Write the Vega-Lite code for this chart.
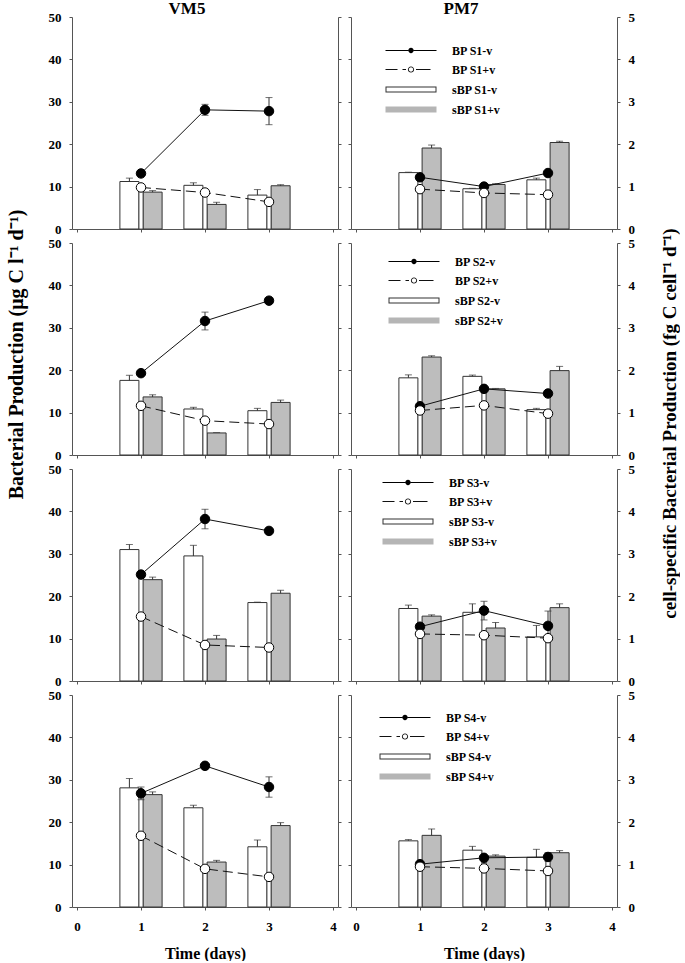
{
"$schema":"https://vega.github.io/schema/vega-lite/v6.json",
"autosize":{"type":"pad"},
"padding":{"left":6,"top":0,"right":0,"bottom":0},
"config":{"view":{"stroke":null},
"axis":{"grid":false,"domainColor":"#555","domainWidth":1,"tickColor":"#555","tickWidth":1,"tickSize":3,"labelFont":"Liberation Serif","labelFontWeight":"bold","labelFontSize":13,"labelColor":"#000","labelPadding":8,"labelFlush":false,"titleFont":"Liberation Serif","titleFontWeight":"bold","titleFontSize":19,"titleColor":"#000"},
"legend":{"orient":"none","labelFont":"Liberation Serif","labelFontWeight":"bold","labelFontSize":12,"labelColor":"#000","symbolSize":100,"labelOffset":55,"rowPadding":6,"padding":0},
"title":{"font":"Liberation Serif","fontWeight":"bold","fontSize":17,"color":"#000","frame":"group","anchor":"middle","offset":-7}},
"data":{"values":[
{"st":"VM5","s":"S1","m":"BP","t":"-v","day":1,"v":13.1,"e":0.5},{"st":"VM5","s":"S1","m":"BP","t":"-v","day":2,"v":28.1,"e":1.3},{"st":"VM5","s":"S1","m":"BP","t":"-v","day":3,"v":27.8,"e":3.2},
{"st":"VM5","s":"S1","m":"BP","t":"+v","day":1,"v":9.8,"e":0.3},{"st":"VM5","s":"S1","m":"BP","t":"+v","day":2,"v":8.6,"e":0.3},{"st":"VM5","s":"S1","m":"BP","t":"+v","day":3,"v":6.4,"e":0.3},
{"st":"VM5","s":"S1","m":"sBP","t":"-v","day":1,"v":1.12,"e":0.08},{"st":"VM5","s":"S1","m":"sBP","t":"-v","day":2,"v":1.03,"e":0.06},{"st":"VM5","s":"S1","m":"sBP","t":"-v","day":3,"v":0.8,"e":0.13},
{"st":"VM5","s":"S1","m":"sBP","t":"+v","day":1,"v":0.87,"e":0.035},{"st":"VM5","s":"S1","m":"sBP","t":"+v","day":2,"v":0.58,"e":0.05},{"st":"VM5","s":"S1","m":"sBP","t":"+v","day":3,"v":1.02,"e":0.025},
{"st":"PM7","s":"S1","m":"BP","t":"-v","day":1,"v":12.2,"e":0.3},{"st":"PM7","s":"S1","m":"BP","t":"-v","day":2,"v":10.0,"e":0.3},{"st":"PM7","s":"S1","m":"BP","t":"-v","day":3,"v":13.2,"e":0.3},
{"st":"PM7","s":"S1","m":"BP","t":"+v","day":1,"v":9.4,"e":0.2},{"st":"PM7","s":"S1","m":"BP","t":"+v","day":2,"v":8.5,"e":0.2},{"st":"PM7","s":"S1","m":"BP","t":"+v","day":3,"v":8.1,"e":0.2},
{"st":"PM7","s":"S1","m":"sBP","t":"-v","day":1,"v":1.33,"e":0.01},{"st":"PM7","s":"S1","m":"sBP","t":"-v","day":2,"v":0.95,"e":0.01},{"st":"PM7","s":"S1","m":"sBP","t":"-v","day":3,"v":1.16,"e":0.04},
{"st":"PM7","s":"S1","m":"sBP","t":"+v","day":1,"v":1.91,"e":0.07},{"st":"PM7","s":"S1","m":"sBP","t":"+v","day":2,"v":1.05,"e":0.02},{"st":"PM7","s":"S1","m":"sBP","t":"+v","day":3,"v":2.04,"e":0.03},
{"st":"VM5","s":"S2","m":"BP","t":"-v","day":1,"v":19.3,"e":0.4},{"st":"VM5","s":"S2","m":"BP","t":"-v","day":2,"v":31.6,"e":2.1},{"st":"VM5","s":"S2","m":"BP","t":"-v","day":3,"v":36.4,"e":0.5},
{"st":"VM5","s":"S2","m":"BP","t":"+v","day":1,"v":11.6,"e":0.3},{"st":"VM5","s":"S2","m":"BP","t":"+v","day":2,"v":8.1,"e":0.3},{"st":"VM5","s":"S2","m":"BP","t":"+v","day":3,"v":7.3,"e":0.3},
{"st":"VM5","s":"S2","m":"sBP","t":"-v","day":1,"v":1.76,"e":0.12},{"st":"VM5","s":"S2","m":"sBP","t":"-v","day":2,"v":1.085,"e":0.04},{"st":"VM5","s":"S2","m":"sBP","t":"-v","day":3,"v":1.045,"e":0.055},
{"st":"VM5","s":"S2","m":"sBP","t":"+v","day":1,"v":1.37,"e":0.05},{"st":"VM5","s":"S2","m":"sBP","t":"+v","day":2,"v":0.52,"e":0.0},{"st":"VM5","s":"S2","m":"sBP","t":"+v","day":3,"v":1.24,"e":0.055},
{"st":"PM7","s":"S2","m":"BP","t":"-v","day":1,"v":11.5,"e":0.3},{"st":"PM7","s":"S2","m":"BP","t":"-v","day":2,"v":15.6,"e":0.3},{"st":"PM7","s":"S2","m":"BP","t":"-v","day":3,"v":14.5,"e":0.3},
{"st":"PM7","s":"S2","m":"BP","t":"+v","day":1,"v":10.5,"e":0.3},{"st":"PM7","s":"S2","m":"BP","t":"+v","day":2,"v":11.7,"e":0.3},{"st":"PM7","s":"S2","m":"BP","t":"+v","day":3,"v":9.75,"e":0.3},
{"st":"PM7","s":"S2","m":"sBP","t":"-v","day":1,"v":1.82,"e":0.07},{"st":"PM7","s":"S2","m":"sBP","t":"-v","day":2,"v":1.855,"e":0.03},{"st":"PM7","s":"S2","m":"sBP","t":"-v","day":3,"v":1.07,"e":0.03},
{"st":"PM7","s":"S2","m":"sBP","t":"+v","day":1,"v":2.31,"e":0.03},{"st":"PM7","s":"S2","m":"sBP","t":"+v","day":2,"v":1.56,"e":0.01},{"st":"PM7","s":"S2","m":"sBP","t":"+v","day":3,"v":1.99,"e":0.1},
{"st":"VM5","s":"S3","m":"BP","t":"-v","day":1,"v":25.1,"e":0.5},{"st":"VM5","s":"S3","m":"BP","t":"-v","day":2,"v":38.2,"e":2.3},{"st":"VM5","s":"S3","m":"BP","t":"-v","day":3,"v":35.4,"e":0.5},
{"st":"VM5","s":"S3","m":"BP","t":"+v","day":1,"v":15.2,"e":0.3},{"st":"VM5","s":"S3","m":"BP","t":"+v","day":2,"v":8.5,"e":0.3},{"st":"VM5","s":"S3","m":"BP","t":"+v","day":3,"v":7.9,"e":0.3},
{"st":"VM5","s":"S3","m":"sBP","t":"-v","day":1,"v":3.1,"e":0.12},{"st":"VM5","s":"S3","m":"sBP","t":"-v","day":2,"v":2.95,"e":0.25},{"st":"VM5","s":"S3","m":"sBP","t":"-v","day":3,"v":1.85,"e":0.01},
{"st":"VM5","s":"S3","m":"sBP","t":"+v","day":1,"v":2.39,"e":0.06},{"st":"VM5","s":"S3","m":"sBP","t":"+v","day":2,"v":0.99,"e":0.085},{"st":"VM5","s":"S3","m":"sBP","t":"+v","day":3,"v":2.07,"e":0.07},
{"st":"PM7","s":"S3","m":"BP","t":"-v","day":1,"v":12.8,"e":0.3},{"st":"PM7","s":"S3","m":"BP","t":"-v","day":2,"v":16.6,"e":2.2},{"st":"PM7","s":"S3","m":"BP","t":"-v","day":3,"v":13.0,"e":3.5},
{"st":"PM7","s":"S3","m":"BP","t":"+v","day":1,"v":11.1,"e":0.3},{"st":"PM7","s":"S3","m":"BP","t":"+v","day":2,"v":10.8,"e":0.3},{"st":"PM7","s":"S3","m":"BP","t":"+v","day":3,"v":10.1,"e":0.3},
{"st":"PM7","s":"S3","m":"sBP","t":"-v","day":1,"v":1.71,"e":0.08},{"st":"PM7","s":"S3","m":"sBP","t":"-v","day":2,"v":1.62,"e":0.2},{"st":"PM7","s":"S3","m":"sBP","t":"-v","day":3,"v":1.04,"e":0.27},
{"st":"PM7","s":"S3","m":"sBP","t":"+v","day":1,"v":1.53,"e":0.03},{"st":"PM7","s":"S3","m":"sBP","t":"+v","day":2,"v":1.25,"e":0.13},{"st":"PM7","s":"S3","m":"sBP","t":"+v","day":3,"v":1.73,"e":0.09},
{"st":"VM5","s":"S4","m":"BP","t":"-v","day":1,"v":26.8,"e":1.5},{"st":"VM5","s":"S4","m":"BP","t":"-v","day":2,"v":33.3,"e":0.5},{"st":"VM5","s":"S4","m":"BP","t":"-v","day":3,"v":28.3,"e":2.4},
{"st":"VM5","s":"S4","m":"BP","t":"+v","day":1,"v":16.8,"e":0.3},{"st":"VM5","s":"S4","m":"BP","t":"+v","day":2,"v":9.0,"e":0.3},{"st":"VM5","s":"S4","m":"BP","t":"+v","day":3,"v":7.1,"e":0.3},
{"st":"VM5","s":"S4","m":"sBP","t":"-v","day":1,"v":2.81,"e":0.22},{"st":"VM5","s":"S4","m":"sBP","t":"-v","day":2,"v":2.34,"e":0.06},{"st":"VM5","s":"S4","m":"sBP","t":"-v","day":3,"v":1.42,"e":0.16},
{"st":"VM5","s":"S4","m":"sBP","t":"+v","day":1,"v":2.65,"e":0.065},{"st":"VM5","s":"S4","m":"sBP","t":"+v","day":2,"v":1.06,"e":0.04},{"st":"VM5","s":"S4","m":"sBP","t":"+v","day":3,"v":1.92,"e":0.07},
{"st":"PM7","s":"S4","m":"BP","t":"-v","day":1,"v":10.1,"e":0.3},{"st":"PM7","s":"S4","m":"BP","t":"-v","day":2,"v":11.6,"e":0.3},{"st":"PM7","s":"S4","m":"BP","t":"-v","day":3,"v":11.8,"e":1.0},
{"st":"PM7","s":"S4","m":"BP","t":"+v","day":1,"v":9.5,"e":0.3},{"st":"PM7","s":"S4","m":"BP","t":"+v","day":2,"v":9.1,"e":0.3},{"st":"PM7","s":"S4","m":"BP","t":"+v","day":3,"v":8.5,"e":0.3},
{"st":"PM7","s":"S4","m":"sBP","t":"-v","day":1,"v":1.56,"e":0.03},{"st":"PM7","s":"S4","m":"sBP","t":"-v","day":2,"v":1.34,"e":0.09},{"st":"PM7","s":"S4","m":"sBP","t":"-v","day":3,"v":1.17,"e":0.19},
{"st":"PM7","s":"S4","m":"sBP","t":"+v","day":1,"v":1.69,"e":0.15},{"st":"PM7","s":"S4","m":"sBP","t":"+v","day":2,"v":1.2,"e":0.03},{"st":"PM7","s":"S4","m":"sBP","t":"+v","day":3,"v":1.28,"e":0.05}
]},
"columns":2,
"spacing":{"row":14,"column":13},
"bounds":"flush",
"resolve":{"scale":{"fill":"independent","shape":"independent"},"legend":{"fill":"independent","shape":"independent"}},
"concat":[
{"width":266,"height":212,"title":{"text":"VM5","dx":-18},
"transform":[{"filter":"datum.st=='VM5'&&datum.s=='S1'"}],
"encoding":{"x":{"field":"day","type":"quantitative","scale":{"domain":[0,4],"nice":false,"zero":false},"axis":{"values":[0,1,2,3,4],"labels":false,"title":null}}},
"layer":[
{"transform":[{"filter":"datum.m=='sBP'"}],"encoding":{"y":{"field":"v","type":"quantitative","scale":{"domain":[0,5],"nice":false},"axis":{"orient":"right","values":[0,1,2,3,4,5],"labels":false,"title":null}}},
"layer":[
{"transform":[{"filter":"datum.t=='-v'"}],"mark":{"type":"errorbar","ticks":{"size":7,"color":"#333","xOffset":-11.6},"rule":{"color":"#333","xOffset":-11.6}},"encoding":{"yError":{"field":"e"}}},
{"transform":[{"filter":"datum.t=='+v'"}],"mark":{"type":"errorbar","ticks":{"size":7,"color":"#333","xOffset":11.6},"rule":{"color":"#333","xOffset":11.6}},"encoding":{"yError":{"field":"e"}}},
{"transform":[{"filter":"datum.t=='-v'"}],"mark":{"type":"bar","orient":"vertical","width":19,"xOffset":-11.6,"fill":"#fff","stroke":"#333","strokeWidth":1}},
{"transform":[{"filter":"datum.t=='+v'"}],"mark":{"type":"bar","orient":"vertical","width":19,"xOffset":11.6,"fill":"#bdbdbd","stroke":"#333","strokeWidth":1}}]},
{"transform":[{"filter":"datum.m=='BP'"}],"encoding":{"y":{"field":"v","type":"quantitative","scale":{"domain":[0,50],"nice":false},"axis":{"orient":"left","values":[0,10,20,30,40,50],"title":null}}},
"layer":[
{"transform":[{"filter":"datum.t=='+v'"}],"mark":{"type":"bar","orient":"vertical","width":4,"fill":"#fff","stroke":"#333","strokeWidth":0.8}},
{"transform":[{"filter":"datum.t=='-v'"}],"mark":{"type":"line","color":"#111","strokeWidth":1}},
{"transform":[{"filter":"datum.t=='-v'"}],"mark":{"type":"errorbar","ticks":{"size":7,"color":"#333"},"rule":{"color":"#333"}},"encoding":{"yError":{"field":"e"}}},
{"transform":[{"filter":"datum.t=='-v'"}],"mark":{"type":"point","shape":"circle","filled":true,"fill":"#000","stroke":"#000","strokeWidth":1,"size":90,"opacity":1}},
{"transform":[{"filter":"datum.t=='+v'"}],"mark":{"type":"line","color":"#111","strokeWidth":1,"strokeDash":[10,5]}},
{"transform":[{"filter":"datum.t=='+v'"}],"mark":{"type":"point","shape":"circle","filled":true,"fill":"#fff","stroke":"#000","strokeWidth":1,"size":90,"opacity":1}}]}],
"resolve":{"scale":{"y":"independent"}}},
{"width":266,"height":212,"title":{"text":"PM7","dx":-23},
"transform":[{"filter":"datum.st=='PM7'&&datum.s=='S1'"}],
"encoding":{"x":{"field":"day","type":"quantitative","scale":{"domain":[0,4],"nice":false,"zero":false},"axis":{"values":[0,1,2,3,4],"labels":false,"title":null}}},
"layer":[
{"transform":[{"filter":"datum.m=='sBP'"}],"encoding":{"y":{"field":"v","type":"quantitative","scale":{"domain":[0,5],"nice":false},"axis":{"orient":"right","values":[0,1,2,3,4,5],"title":null}}},
"layer":[
{"transform":[{"filter":"datum.t=='-v'"}],"mark":{"type":"errorbar","ticks":{"size":7,"color":"#333","xOffset":-11.6},"rule":{"color":"#333","xOffset":-11.6}},"encoding":{"yError":{"field":"e"}}},
{"transform":[{"filter":"datum.t=='+v'"}],"mark":{"type":"errorbar","ticks":{"size":7,"color":"#333","xOffset":11.6},"rule":{"color":"#333","xOffset":11.6}},"encoding":{"yError":{"field":"e"}}},
{"transform":[{"filter":"datum.t=='-v'"}],"mark":{"type":"bar","orient":"vertical","width":19,"xOffset":-11.6,"fill":"#fff","stroke":"#333","strokeWidth":1}},
{"transform":[{"filter":"datum.t=='+v'"}],"mark":{"type":"bar","orient":"vertical","width":19,"xOffset":11.6,"fill":"#bdbdbd","stroke":"#333","strokeWidth":1}}]},
{"transform":[{"filter":"datum.m=='BP'"}],"encoding":{"y":{"field":"v","type":"quantitative","scale":{"domain":[0,50],"nice":false},"axis":{"orient":"left","values":[0,10,20,30,40,50],"labels":false,"title":null}}},
"layer":[
{"transform":[{"filter":"datum.t=='+v'"}],"mark":{"type":"bar","orient":"vertical","width":4,"fill":"#fff","stroke":"#333","strokeWidth":0.8}},
{"transform":[{"filter":"datum.t=='-v'"}],"mark":{"type":"line","color":"#111","strokeWidth":1}},
{"transform":[{"filter":"datum.t=='-v'"}],"mark":{"type":"errorbar","ticks":{"size":7,"color":"#333"},"rule":{"color":"#333"}},"encoding":{"yError":{"field":"e"}}},
{"transform":[{"filter":"datum.t=='-v'"}],"mark":{"type":"point","shape":"circle","filled":true,"fill":"#000","stroke":"#000","strokeWidth":1,"size":90,"opacity":1}},
{"transform":[{"filter":"datum.t=='+v'"}],"mark":{"type":"line","color":"#111","strokeWidth":1,"strokeDash":[10,5]}},
{"transform":[{"filter":"datum.t=='+v'"}],"mark":{"type":"point","shape":"circle","filled":true,"fill":"#fff","stroke":"#000","strokeWidth":1,"size":90,"opacity":1}},
{"transform":[{"filter":"datum.day>9"}],"mark":{"type":"point","filled":true,"opacity":1},
"encoding":{"shape":{"field":"k","type":"nominal","scale":{"domain":["BP S1-v","BP S1+v","sBP S1-v","sBP S1+v"],"range":["M-1.1,-0.1H3.47V0.1H-1.1ZM4.53,-0.1H9.1V0.1H4.53ZM3.47,0A0.53,0.53,0,1,1,4.53,0A0.53,0.53,0,1,1,3.47,0Z","M-1.1,-0.1H1.3V0.1H-1.1ZM2.3,-0.1H3.0V0.1H2.3ZM5.0,-0.1H7.9V0.1H5.0ZM3.38,0A0.62,0.62,0,1,1,4.62,0A0.62,0.62,0,1,1,3.38,0ZM3.56,0A0.44,0.44,0,1,0,4.44,0A0.44,0.44,0,1,0,3.56,0Z","M-1.1,-0.62H9.1V0.62H-1.1ZM-0.9,-0.42V0.42H8.9V-0.42Z","M-1.1,-0.62H9.1V0.62H-1.1Z"]},"legend":{"title":null,"orient":"none","legendX":34,"legendY":27.5}},
"fill":{"field":"k","type":"nominal","scale":{"domain":["BP S1-v","BP S1+v","sBP S1-v","sBP S1+v"],"range":["#000","#111","#333","#b5b5b5"]},"legend":{"title":null,"orient":"none","legendX":34,"legendY":27.5}}}}]}],
"resolve":{"scale":{"y":"independent"}}},
{"width":266,"height":212,
"transform":[{"filter":"datum.st=='VM5'&&datum.s=='S2'"}],
"encoding":{"x":{"field":"day","type":"quantitative","scale":{"domain":[0,4],"nice":false,"zero":false},"axis":{"values":[0,1,2,3,4],"labels":false,"title":null}}},
"layer":[
{"transform":[{"filter":"datum.m=='sBP'"}],"encoding":{"y":{"field":"v","type":"quantitative","scale":{"domain":[0,5],"nice":false},"axis":{"orient":"right","values":[0,1,2,3,4,5],"labels":false,"title":null}}},
"layer":[
{"transform":[{"filter":"datum.t=='-v'"}],"mark":{"type":"errorbar","ticks":{"size":7,"color":"#333","xOffset":-11.6},"rule":{"color":"#333","xOffset":-11.6}},"encoding":{"yError":{"field":"e"}}},
{"transform":[{"filter":"datum.t=='+v'"}],"mark":{"type":"errorbar","ticks":{"size":7,"color":"#333","xOffset":11.6},"rule":{"color":"#333","xOffset":11.6}},"encoding":{"yError":{"field":"e"}}},
{"transform":[{"filter":"datum.t=='-v'"}],"mark":{"type":"bar","orient":"vertical","width":19,"xOffset":-11.6,"fill":"#fff","stroke":"#333","strokeWidth":1}},
{"transform":[{"filter":"datum.t=='+v'"}],"mark":{"type":"bar","orient":"vertical","width":19,"xOffset":11.6,"fill":"#bdbdbd","stroke":"#333","strokeWidth":1}}]},
{"transform":[{"filter":"datum.m=='BP'"}],"encoding":{"y":{"field":"v","type":"quantitative","scale":{"domain":[0,50],"nice":false},"axis":{"orient":"left","values":[0,10,20,30,40,50],"title":"Bacterial Production (μg C l⁻¹ d⁻¹)","titleFontSize":20,"titleY":111,"titlePadding":21.5}}},
"layer":[
{"transform":[{"filter":"datum.t=='+v'"}],"mark":{"type":"bar","orient":"vertical","width":4,"fill":"#fff","stroke":"#333","strokeWidth":0.8}},
{"transform":[{"filter":"datum.t=='-v'"}],"mark":{"type":"line","color":"#111","strokeWidth":1}},
{"transform":[{"filter":"datum.t=='-v'"}],"mark":{"type":"errorbar","ticks":{"size":7,"color":"#333"},"rule":{"color":"#333"}},"encoding":{"yError":{"field":"e"}}},
{"transform":[{"filter":"datum.t=='-v'"}],"mark":{"type":"point","shape":"circle","filled":true,"fill":"#000","stroke":"#000","strokeWidth":1,"size":90,"opacity":1}},
{"transform":[{"filter":"datum.t=='+v'"}],"mark":{"type":"line","color":"#111","strokeWidth":1,"strokeDash":[10,5]}},
{"transform":[{"filter":"datum.t=='+v'"}],"mark":{"type":"point","shape":"circle","filled":true,"fill":"#fff","stroke":"#000","strokeWidth":1,"size":90,"opacity":1}}]}],
"resolve":{"scale":{"y":"independent"}}},
{"width":266,"height":212,
"transform":[{"filter":"datum.st=='PM7'&&datum.s=='S2'"}],
"encoding":{"x":{"field":"day","type":"quantitative","scale":{"domain":[0,4],"nice":false,"zero":false},"axis":{"values":[0,1,2,3,4],"labels":false,"title":null}}},
"layer":[
{"transform":[{"filter":"datum.m=='sBP'"}],"encoding":{"y":{"field":"v","type":"quantitative","scale":{"domain":[0,5],"nice":false},"axis":{"orient":"right","values":[0,1,2,3,4,5],"title":"cell-specific Bacterial Production (fg C cell⁻¹ d⁻¹)","titleAngle":270,"titleBaseline":"top","titleY":180,"titlePadding":26}}},
"layer":[
{"transform":[{"filter":"datum.t=='-v'"}],"mark":{"type":"errorbar","ticks":{"size":7,"color":"#333","xOffset":-11.6},"rule":{"color":"#333","xOffset":-11.6}},"encoding":{"yError":{"field":"e"}}},
{"transform":[{"filter":"datum.t=='+v'"}],"mark":{"type":"errorbar","ticks":{"size":7,"color":"#333","xOffset":11.6},"rule":{"color":"#333","xOffset":11.6}},"encoding":{"yError":{"field":"e"}}},
{"transform":[{"filter":"datum.t=='-v'"}],"mark":{"type":"bar","orient":"vertical","width":19,"xOffset":-11.6,"fill":"#fff","stroke":"#333","strokeWidth":1}},
{"transform":[{"filter":"datum.t=='+v'"}],"mark":{"type":"bar","orient":"vertical","width":19,"xOffset":11.6,"fill":"#bdbdbd","stroke":"#333","strokeWidth":1}}]},
{"transform":[{"filter":"datum.m=='BP'"}],"encoding":{"y":{"field":"v","type":"quantitative","scale":{"domain":[0,50],"nice":false},"axis":{"orient":"left","values":[0,10,20,30,40,50],"labels":false,"title":null}}},
"layer":[
{"transform":[{"filter":"datum.t=='+v'"}],"mark":{"type":"bar","orient":"vertical","width":4,"fill":"#fff","stroke":"#333","strokeWidth":0.8}},
{"transform":[{"filter":"datum.t=='-v'"}],"mark":{"type":"line","color":"#111","strokeWidth":1}},
{"transform":[{"filter":"datum.t=='-v'"}],"mark":{"type":"errorbar","ticks":{"size":7,"color":"#333"},"rule":{"color":"#333"}},"encoding":{"yError":{"field":"e"}}},
{"transform":[{"filter":"datum.t=='-v'"}],"mark":{"type":"point","shape":"circle","filled":true,"fill":"#000","stroke":"#000","strokeWidth":1,"size":90,"opacity":1}},
{"transform":[{"filter":"datum.t=='+v'"}],"mark":{"type":"line","color":"#111","strokeWidth":1,"strokeDash":[10,5]}},
{"transform":[{"filter":"datum.t=='+v'"}],"mark":{"type":"point","shape":"circle","filled":true,"fill":"#fff","stroke":"#000","strokeWidth":1,"size":90,"opacity":1}},
{"transform":[{"filter":"datum.day>9"}],"mark":{"type":"point","filled":true,"opacity":1},
"encoding":{"shape":{"field":"k","type":"nominal","scale":{"domain":["BP S2-v","BP S2+v","sBP S2-v","sBP S2+v"],"range":["M-1.1,-0.1H3.47V0.1H-1.1ZM4.53,-0.1H9.1V0.1H4.53ZM3.47,0A0.53,0.53,0,1,1,4.53,0A0.53,0.53,0,1,1,3.47,0Z","M-1.1,-0.1H1.3V0.1H-1.1ZM2.3,-0.1H3.0V0.1H2.3ZM5.0,-0.1H7.9V0.1H5.0ZM3.38,0A0.62,0.62,0,1,1,4.62,0A0.62,0.62,0,1,1,3.38,0ZM3.56,0A0.44,0.44,0,1,0,4.44,0A0.44,0.44,0,1,0,3.56,0Z","M-1.1,-0.62H9.1V0.62H-1.1ZM-0.9,-0.42V0.42H8.9V-0.42Z","M-1.1,-0.62H9.1V0.62H-1.1Z"]},"legend":{"title":null,"orient":"none","legendX":37,"legendY":12.5}},
"fill":{"field":"k","type":"nominal","scale":{"domain":["BP S2-v","BP S2+v","sBP S2-v","sBP S2+v"],"range":["#000","#111","#333","#b5b5b5"]},"legend":{"title":null,"orient":"none","legendX":37,"legendY":12.5}}}}]}],
"resolve":{"scale":{"y":"independent"}}},
{"width":266,"height":212,
"transform":[{"filter":"datum.st=='VM5'&&datum.s=='S3'"}],
"encoding":{"x":{"field":"day","type":"quantitative","scale":{"domain":[0,4],"nice":false,"zero":false},"axis":{"values":[0,1,2,3,4],"labels":false,"title":null}}},
"layer":[
{"transform":[{"filter":"datum.m=='sBP'"}],"encoding":{"y":{"field":"v","type":"quantitative","scale":{"domain":[0,5],"nice":false},"axis":{"orient":"right","values":[0,1,2,3,4,5],"labels":false,"title":null}}},
"layer":[
{"transform":[{"filter":"datum.t=='-v'"}],"mark":{"type":"errorbar","ticks":{"size":7,"color":"#333","xOffset":-11.6},"rule":{"color":"#333","xOffset":-11.6}},"encoding":{"yError":{"field":"e"}}},
{"transform":[{"filter":"datum.t=='+v'"}],"mark":{"type":"errorbar","ticks":{"size":7,"color":"#333","xOffset":11.6},"rule":{"color":"#333","xOffset":11.6}},"encoding":{"yError":{"field":"e"}}},
{"transform":[{"filter":"datum.t=='-v'"}],"mark":{"type":"bar","orient":"vertical","width":19,"xOffset":-11.6,"fill":"#fff","stroke":"#333","strokeWidth":1}},
{"transform":[{"filter":"datum.t=='+v'"}],"mark":{"type":"bar","orient":"vertical","width":19,"xOffset":11.6,"fill":"#bdbdbd","stroke":"#333","strokeWidth":1}}]},
{"transform":[{"filter":"datum.m=='BP'"}],"encoding":{"y":{"field":"v","type":"quantitative","scale":{"domain":[0,50],"nice":false},"axis":{"orient":"left","values":[0,10,20,30,40,50],"title":null}}},
"layer":[
{"transform":[{"filter":"datum.t=='+v'"}],"mark":{"type":"bar","orient":"vertical","width":4,"fill":"#fff","stroke":"#333","strokeWidth":0.8}},
{"transform":[{"filter":"datum.t=='-v'"}],"mark":{"type":"line","color":"#111","strokeWidth":1}},
{"transform":[{"filter":"datum.t=='-v'"}],"mark":{"type":"errorbar","ticks":{"size":7,"color":"#333"},"rule":{"color":"#333"}},"encoding":{"yError":{"field":"e"}}},
{"transform":[{"filter":"datum.t=='-v'"}],"mark":{"type":"point","shape":"circle","filled":true,"fill":"#000","stroke":"#000","strokeWidth":1,"size":90,"opacity":1}},
{"transform":[{"filter":"datum.t=='+v'"}],"mark":{"type":"line","color":"#111","strokeWidth":1,"strokeDash":[10,5]}},
{"transform":[{"filter":"datum.t=='+v'"}],"mark":{"type":"point","shape":"circle","filled":true,"fill":"#fff","stroke":"#000","strokeWidth":1,"size":90,"opacity":1}}]}],
"resolve":{"scale":{"y":"independent"}}},
{"width":266,"height":212,
"transform":[{"filter":"datum.st=='PM7'&&datum.s=='S3'"}],
"encoding":{"x":{"field":"day","type":"quantitative","scale":{"domain":[0,4],"nice":false,"zero":false},"axis":{"values":[0,1,2,3,4],"labels":false,"title":null}}},
"layer":[
{"transform":[{"filter":"datum.m=='sBP'"}],"encoding":{"y":{"field":"v","type":"quantitative","scale":{"domain":[0,5],"nice":false},"axis":{"orient":"right","values":[0,1,2,3,4,5],"title":null}}},
"layer":[
{"transform":[{"filter":"datum.t=='-v'"}],"mark":{"type":"errorbar","ticks":{"size":7,"color":"#333","xOffset":-11.6},"rule":{"color":"#333","xOffset":-11.6}},"encoding":{"yError":{"field":"e"}}},
{"transform":[{"filter":"datum.t=='+v'"}],"mark":{"type":"errorbar","ticks":{"size":7,"color":"#333","xOffset":11.6},"rule":{"color":"#333","xOffset":11.6}},"encoding":{"yError":{"field":"e"}}},
{"transform":[{"filter":"datum.t=='-v'"}],"mark":{"type":"bar","orient":"vertical","width":19,"xOffset":-11.6,"fill":"#fff","stroke":"#333","strokeWidth":1}},
{"transform":[{"filter":"datum.t=='+v'"}],"mark":{"type":"bar","orient":"vertical","width":19,"xOffset":11.6,"fill":"#bdbdbd","stroke":"#333","strokeWidth":1}}]},
{"transform":[{"filter":"datum.m=='BP'"}],"encoding":{"y":{"field":"v","type":"quantitative","scale":{"domain":[0,50],"nice":false},"axis":{"orient":"left","values":[0,10,20,30,40,50],"labels":false,"title":null}}},
"layer":[
{"transform":[{"filter":"datum.t=='+v'"}],"mark":{"type":"bar","orient":"vertical","width":4,"fill":"#fff","stroke":"#333","strokeWidth":0.8}},
{"transform":[{"filter":"datum.t=='-v'"}],"mark":{"type":"line","color":"#111","strokeWidth":1}},
{"transform":[{"filter":"datum.t=='-v'"}],"mark":{"type":"errorbar","ticks":{"size":7,"color":"#333"},"rule":{"color":"#333"}},"encoding":{"yError":{"field":"e"}}},
{"transform":[{"filter":"datum.t=='-v'"}],"mark":{"type":"point","shape":"circle","filled":true,"fill":"#000","stroke":"#000","strokeWidth":1,"size":90,"opacity":1}},
{"transform":[{"filter":"datum.t=='+v'"}],"mark":{"type":"line","color":"#111","strokeWidth":1,"strokeDash":[10,5]}},
{"transform":[{"filter":"datum.t=='+v'"}],"mark":{"type":"point","shape":"circle","filled":true,"fill":"#fff","stroke":"#000","strokeWidth":1,"size":90,"opacity":1}},
{"transform":[{"filter":"datum.day>9"}],"mark":{"type":"point","filled":true,"opacity":1},
"encoding":{"shape":{"field":"k","type":"nominal","scale":{"domain":["BP S3-v","BP S3+v","sBP S3-v","sBP S3+v"],"range":["M-1.1,-0.1H3.47V0.1H-1.1ZM4.53,-0.1H9.1V0.1H4.53ZM3.47,0A0.53,0.53,0,1,1,4.53,0A0.53,0.53,0,1,1,3.47,0Z","M-1.1,-0.1H1.3V0.1H-1.1ZM2.3,-0.1H3.0V0.1H2.3ZM5.0,-0.1H7.9V0.1H5.0ZM3.38,0A0.62,0.62,0,1,1,4.62,0A0.62,0.62,0,1,1,3.38,0ZM3.56,0A0.44,0.44,0,1,0,4.44,0A0.44,0.44,0,1,0,3.56,0Z","M-1.1,-0.62H9.1V0.62H-1.1ZM-0.9,-0.42V0.42H8.9V-0.42Z","M-1.1,-0.62H9.1V0.62H-1.1Z"]},"legend":{"title":null,"orient":"none","legendX":31,"legendY":7.5}},
"fill":{"field":"k","type":"nominal","scale":{"domain":["BP S3-v","BP S3+v","sBP S3-v","sBP S3+v"],"range":["#000","#111","#333","#b5b5b5"]},"legend":{"title":null,"orient":"none","legendX":31,"legendY":7.5}}}}]}],
"resolve":{"scale":{"y":"independent"}}},
{"width":266,"height":212,
"transform":[{"filter":"datum.st=='VM5'&&datum.s=='S4'"}],
"encoding":{"x":{"field":"day","type":"quantitative","scale":{"domain":[0,4],"nice":false,"zero":false},"axis":{"values":[0,1,2,3,4],"title":"Time (days)","titleFontSize":16,"labelPadding":10,"titlePadding":12}}},
"layer":[
{"transform":[{"filter":"datum.m=='sBP'"}],"encoding":{"y":{"field":"v","type":"quantitative","scale":{"domain":[0,5],"nice":false},"axis":{"orient":"right","values":[0,1,2,3,4,5],"labels":false,"title":null}}},
"layer":[
{"transform":[{"filter":"datum.t=='-v'"}],"mark":{"type":"errorbar","ticks":{"size":7,"color":"#333","xOffset":-11.6},"rule":{"color":"#333","xOffset":-11.6}},"encoding":{"yError":{"field":"e"}}},
{"transform":[{"filter":"datum.t=='+v'"}],"mark":{"type":"errorbar","ticks":{"size":7,"color":"#333","xOffset":11.6},"rule":{"color":"#333","xOffset":11.6}},"encoding":{"yError":{"field":"e"}}},
{"transform":[{"filter":"datum.t=='-v'"}],"mark":{"type":"bar","orient":"vertical","width":19,"xOffset":-11.6,"fill":"#fff","stroke":"#333","strokeWidth":1}},
{"transform":[{"filter":"datum.t=='+v'"}],"mark":{"type":"bar","orient":"vertical","width":19,"xOffset":11.6,"fill":"#bdbdbd","stroke":"#333","strokeWidth":1}}]},
{"transform":[{"filter":"datum.m=='BP'"}],"encoding":{"y":{"field":"v","type":"quantitative","scale":{"domain":[0,50],"nice":false},"axis":{"orient":"left","values":[0,10,20,30,40,50],"title":null}}},
"layer":[
{"transform":[{"filter":"datum.t=='+v'"}],"mark":{"type":"bar","orient":"vertical","width":4,"fill":"#fff","stroke":"#333","strokeWidth":0.8}},
{"transform":[{"filter":"datum.t=='-v'"}],"mark":{"type":"line","color":"#111","strokeWidth":1}},
{"transform":[{"filter":"datum.t=='-v'"}],"mark":{"type":"errorbar","ticks":{"size":7,"color":"#333"},"rule":{"color":"#333"}},"encoding":{"yError":{"field":"e"}}},
{"transform":[{"filter":"datum.t=='-v'"}],"mark":{"type":"point","shape":"circle","filled":true,"fill":"#000","stroke":"#000","strokeWidth":1,"size":90,"opacity":1}},
{"transform":[{"filter":"datum.t=='+v'"}],"mark":{"type":"line","color":"#111","strokeWidth":1,"strokeDash":[10,5]}},
{"transform":[{"filter":"datum.t=='+v'"}],"mark":{"type":"point","shape":"circle","filled":true,"fill":"#fff","stroke":"#000","strokeWidth":1,"size":90,"opacity":1}}]}],
"resolve":{"scale":{"y":"independent"}}},
{"width":266,"height":212,
"transform":[{"filter":"datum.st=='PM7'&&datum.s=='S4'"}],
"encoding":{"x":{"field":"day","type":"quantitative","scale":{"domain":[0,4],"nice":false,"zero":false},"axis":{"values":[0,1,2,3,4],"title":"Time (days)","titleFontSize":16,"labelPadding":10,"titlePadding":12}}},
"layer":[
{"transform":[{"filter":"datum.m=='sBP'"}],"encoding":{"y":{"field":"v","type":"quantitative","scale":{"domain":[0,5],"nice":false},"axis":{"orient":"right","values":[0,1,2,3,4,5],"title":null}}},
"layer":[
{"transform":[{"filter":"datum.t=='-v'"}],"mark":{"type":"errorbar","ticks":{"size":7,"color":"#333","xOffset":-11.6},"rule":{"color":"#333","xOffset":-11.6}},"encoding":{"yError":{"field":"e"}}},
{"transform":[{"filter":"datum.t=='+v'"}],"mark":{"type":"errorbar","ticks":{"size":7,"color":"#333","xOffset":11.6},"rule":{"color":"#333","xOffset":11.6}},"encoding":{"yError":{"field":"e"}}},
{"transform":[{"filter":"datum.t=='-v'"}],"mark":{"type":"bar","orient":"vertical","width":19,"xOffset":-11.6,"fill":"#fff","stroke":"#333","strokeWidth":1}},
{"transform":[{"filter":"datum.t=='+v'"}],"mark":{"type":"bar","orient":"vertical","width":19,"xOffset":11.6,"fill":"#bdbdbd","stroke":"#333","strokeWidth":1}}]},
{"transform":[{"filter":"datum.m=='BP'"}],"encoding":{"y":{"field":"v","type":"quantitative","scale":{"domain":[0,50],"nice":false},"axis":{"orient":"left","values":[0,10,20,30,40,50],"labels":false,"title":null}}},
"layer":[
{"transform":[{"filter":"datum.t=='+v'"}],"mark":{"type":"bar","orient":"vertical","width":4,"fill":"#fff","stroke":"#333","strokeWidth":0.8}},
{"transform":[{"filter":"datum.t=='-v'"}],"mark":{"type":"line","color":"#111","strokeWidth":1}},
{"transform":[{"filter":"datum.t=='-v'"}],"mark":{"type":"errorbar","ticks":{"size":7,"color":"#333"},"rule":{"color":"#333"}},"encoding":{"yError":{"field":"e"}}},
{"transform":[{"filter":"datum.t=='-v'"}],"mark":{"type":"point","shape":"circle","filled":true,"fill":"#000","stroke":"#000","strokeWidth":1,"size":90,"opacity":1}},
{"transform":[{"filter":"datum.t=='+v'"}],"mark":{"type":"line","color":"#111","strokeWidth":1,"strokeDash":[10,5]}},
{"transform":[{"filter":"datum.t=='+v'"}],"mark":{"type":"point","shape":"circle","filled":true,"fill":"#fff","stroke":"#000","strokeWidth":1,"size":90,"opacity":1}},
{"transform":[{"filter":"datum.day>9"}],"mark":{"type":"point","filled":true,"opacity":1},
"encoding":{"shape":{"field":"k","type":"nominal","scale":{"domain":["BP S4-v","BP S4+v","sBP S4-v","sBP S4+v"],"range":["M-1.1,-0.1H3.47V0.1H-1.1ZM4.53,-0.1H9.1V0.1H4.53ZM3.47,0A0.53,0.53,0,1,1,4.53,0A0.53,0.53,0,1,1,3.47,0Z","M-1.1,-0.1H1.3V0.1H-1.1ZM2.3,-0.1H3.0V0.1H2.3ZM5.0,-0.1H7.9V0.1H5.0ZM3.38,0A0.62,0.62,0,1,1,4.62,0A0.62,0.62,0,1,1,3.38,0ZM3.56,0A0.44,0.44,0,1,0,4.44,0A0.44,0.44,0,1,0,3.56,0Z","M-1.1,-0.62H9.1V0.62H-1.1ZM-0.9,-0.42V0.42H8.9V-0.42Z","M-1.1,-0.62H9.1V0.62H-1.1Z"]},"legend":{"title":null,"orient":"none","legendX":28,"legendY":16.5}},
"fill":{"field":"k","type":"nominal","scale":{"domain":["BP S4-v","BP S4+v","sBP S4-v","sBP S4+v"],"range":["#000","#111","#333","#b5b5b5"]},"legend":{"title":null,"orient":"none","legendX":28,"legendY":16.5}}}}]}],
"resolve":{"scale":{"y":"independent"}}}
]
}
